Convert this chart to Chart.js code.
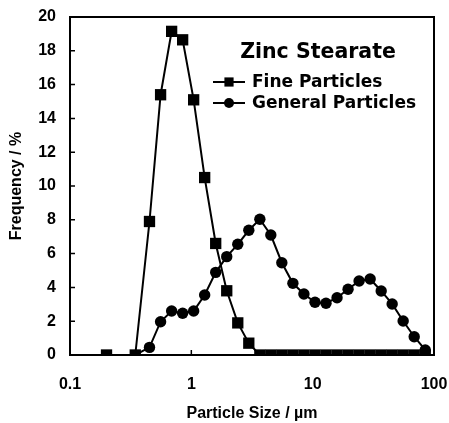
<!DOCTYPE html>
<html>
<head>
<meta charset="utf-8">
<script src="https://cdn.jsdelivr.net/npm/chart.js@4/dist/chart.umd.min.js"></script>
<style>
  html, body { margin: 0; padding: 0; background: #fff; }
  #wrap { width: 449px; height: 423px; position: relative; }
</style>
</head>
<body>
<div id="wrap"><canvas id="psd"></canvas></div>
<script>
// --- DATA ---
const chartTitle = "Zinc Stearate";
const particleSize = [0.2, 0.345, 0.452, 0.558, 0.688, 0.848, 1.045, 1.288, 1.588, 1.958,
  2.414, 2.976, 3.67, 4.52, 5.57, 6.87, 8.47, 10.45, 12.88, 15.88,
  19.58, 24.14, 29.77, 36.7, 45.2, 55.7, 68.7, 84.7];
const fineFreq = [0, 0, 7.9, 15.4, 19.15, 18.65, 15.1, 10.5, 6.6, 3.8,
  1.9, 0.7, 0, 0, 0, 0, 0, 0, 0, 0,
  0, 0, 0, 0, 0, 0, 0, 0];
const generalFreq = [0, 0, 0.45, 1.97, 2.6, 2.47, 2.6, 3.55, 4.89, 5.82,
  6.55, 7.38, 8.03, 7.1, 5.46, 4.24, 3.61, 3.12, 3.06, 3.39,
  3.89, 4.38, 4.5, 3.79, 3.02, 2.01, 1.08, 0.3];
const xTicks = [0.1, 1, 10, 100];
const seriesNames = ["Fine Particles", "General Particles"];

const FONT = "'Liberation Sans', Arial, sans-serif";
const WIDE = "'DejaVu Sans', sans-serif";

const toPoints = (xs, ys) => xs.map((x, i) => ({ x: x, y: ys[i] }));

// frame, inward ticks and the in-plot legend
const decor = {
    id: 'decor',
    afterDraw(chart) {
        const { ctx, chartArea: a, scales } = chart;
        ctx.save();
        ctx.strokeStyle = '#000';
        ctx.lineWidth = 1.5;
        // inward ticks
        ctx.beginPath();
        for (let v = 2; v < 20; v += 2) {
            const y = scales.y.getPixelForValue(v);
            ctx.moveTo(a.left, y); ctx.lineTo(a.left + 5, y);
        }
        [1, 10].forEach(v => {
            const x = scales.x.getPixelForValue(v);
            ctx.moveTo(x, a.bottom); ctx.lineTo(x, a.bottom - 5);
        });
        ctx.stroke();
        // frame
        ctx.lineWidth = 2;
        ctx.strokeRect(a.left, a.top, a.right - a.left, a.bottom - a.top);

        // legend
        ctx.fillStyle = '#000';
        ctx.textBaseline = 'middle';
        ctx.textAlign = 'center';
        ctx.font = `bold 20.5px ${WIDE}`;
        ctx.fillText(chartTitle, 318, 53);
        ctx.textAlign = 'left';
        ctx.font = `bold 17px ${WIDE}`;
        const rows = [82, 103];
        chart.data.datasets.forEach((ds, i) => {
            const y = rows[i];
            ctx.lineWidth = 2;
            ctx.beginPath();
            ctx.moveTo(213, y); ctx.lineTo(245, y);
            ctx.stroke();
            Chart.helpers.drawPoint(ctx, {
                pointStyle: ds.pointStyle,
                radius: i === 0 ? 6.5 : 5,
                rotation: 0,
                borderWidth: 0
            }, 229, y);
            ctx.fillText(ds.label, 252, y + 1);
        });
        ctx.restore();
    }
};

new Chart(document.getElementById('psd'), {
    type: 'scatter',
    data: {
        datasets: [
            {
                label: seriesNames[0],
                data: toPoints(particleSize, fineFreq),
                showLine: true,
                borderColor: '#000',
                backgroundColor: '#000',
                borderWidth: 2,
                pointStyle: 'rect',
                pointRadius: 8,
                pointBorderWidth: 0,
                order: 2
            },
            {
                label: seriesNames[1],
                data: toPoints(particleSize, generalFreq),
                showLine: true,
                borderColor: '#000',
                backgroundColor: '#000',
                borderWidth: 2,
                pointStyle: 'circle',
                pointRadius: ctx => (ctx.dataIndex < 2 ? 0 : 5.7),
                pointBorderWidth: 0,
                order: 1
            }
        ]
    },
    options: {
        responsive: true,
        maintainAspectRatio: false,
        animation: false,
        devicePixelRatio: 1,
        layout: { padding: { left: 0, top: 17, right: 15, bottom: 0 } },
        plugins: { legend: { display: false }, tooltip: { enabled: false } },
        scales: {
            x: {
                type: 'logarithmic',
                min: 0.1,
                max: 100,
                afterBuildTicks: s => { s.ticks = xTicks.map(v => ({ value: v })); },
                afterFit: s => { s.height = 68; s.paddingLeft = 0; s.paddingRight = 0; },
                grid: { display: false, drawTicks: false },
                border: { display: false },
                ticks: {
                    autoSkip: false,
                    maxRotation: 0,
                    padding: 20,
                    color: '#000',
                    font: { family: FONT, size: 16, weight: 'bold' },
                    callback: v => String(v)
                },
                title: {
                    display: true,
                    text: 'Particle Size / µm',
                    color: '#000',
                    padding: { top: 0, bottom: 0 },
                    font: { family: FONT, size: 16, weight: 'bold' }
                }
            },
            y: {
                min: 0,
                max: 20,
                afterFit: s => { s.width = 70; s.paddingTop = 0; s.paddingBottom = 0; },
                grid: { display: false, drawTicks: false },
                border: { display: false },
                ticks: {
                    stepSize: 2,
                    padding: 14,
                    color: '#000',
                    font: { family: FONT, size: 16, weight: 'bold' }
                },
                title: {
                    display: true,
                    text: 'Frequency / %',
                    color: '#000',
                    padding: { top: 7, bottom: 0 },
                    font: { family: FONT, size: 16, weight: 'bold' }
                }
            }
        }
    },
    plugins: [decor]
});
</script>
</body>
</html>
